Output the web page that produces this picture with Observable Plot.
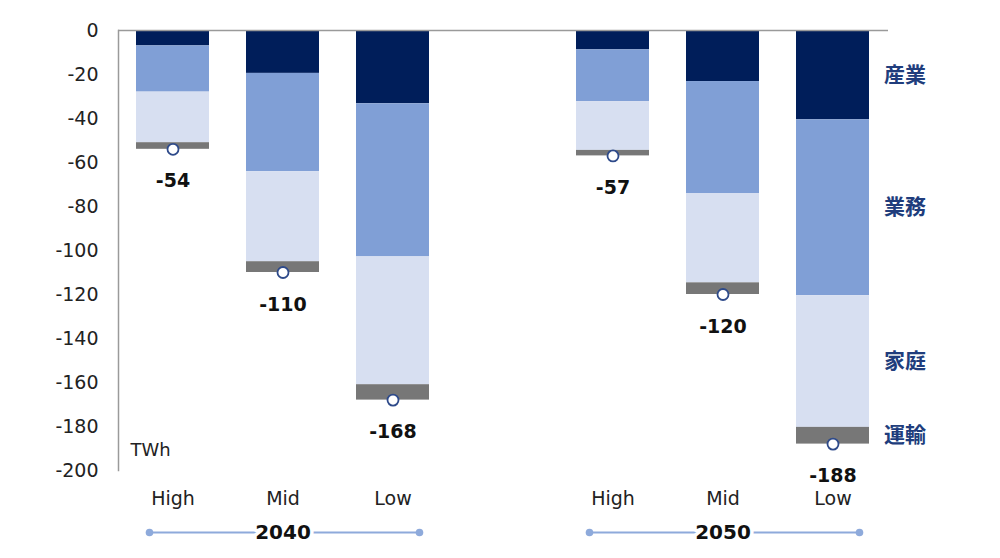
<!DOCTYPE html>
<html>
<head>
<meta charset="utf-8">
<script src="https://cdn.jsdelivr.net/npm/d3@7"></script>
<script src="https://cdn.jsdelivr.net/npm/@observablehq/plot@0.6"></script>
<style>
  html, body { margin: 0; padding: 0; background: #fff; }
  #chart { width: 1000px; height: 558px; }
</style>
</head>
<body>
<div id="chart"></div>
<script>
// ---- data ----
const years = ["2040", "2050"];
const scenarios = ["High", "Mid", "Low"];
const sectors = ["産業", "業務", "家庭", "運輸"];
const sectorColors = ["#001e5a", "#809fd6", "#d7dff1", "#777777"];
// TWh, order: 2040 High/Mid/Low, 2050 High/Mid/Low
const industry    = [-7.0, -19.5, -33.3, -8.8, -23.2, -40.6];
const commercial  = [-21.0, -44.7, -69.6, -23.5, -50.9, -79.9];
const residential = [-23.0, -40.9, -58.1, -22.2, -40.6, -59.9];
const transport   = [-3.0, -4.9, -7.0, -2.5, -5.3, -7.6];
const totals      = [-54, -110, -168, -57, -120, -188];
const yTicks = [0, -20, -40, -60, -80, -100, -120, -140, -160, -180, -200];
const unitLabel = "TWh";

// ---- derived tables ----
const keys = years.flatMap(y => scenarios.map(s => `${y}-${s}`));
const xDomain = [...keys.slice(0, 3), "gap", ...keys.slice(3)];
const series = [industry, commercial, residential, transport];
const segs = [];
keys.forEach((k, i) => {
  let base = 0;
  sectors.forEach((s, j) => {
    const v = series[j][i];
    segs.push({key: k, sector: s, y1: base, y2: base + v, mid: base + v / 2});
    base += v;
  });
});
const totalRows = keys.map((k, i) => ({key: k, total: totals[i]}));
const lastKey = keys[keys.length - 1];
const legendRows = segs.filter(d => d.key === lastKey);
const groups = years.map(y => ({year: y, first: `${y}-High`, mid: `${y}-Mid`, last: `${y}-Low`}));
const yMin = d3.min(yTicks);

const chart = Plot.plot({
  width: 1000,
  height: 558,
  marginLeft: 118,
  marginRight: 112,
  marginTop: 30,
  marginBottom: 88,
  style: {fontFamily: "'DejaVu Sans', Verdana, sans-serif", fontSize: "19px", color: "#222", background: "#fff"},
  x: {domain: xDomain, paddingInner: 0.336, paddingOuter: 0.168},
  y: {domain: [yMin, 0]},
  color: {domain: sectors, range: sectorColors},
  marks: [
    Plot.barY(segs, {x: "key", y1: "y1", y2: "y2", fill: "sector", inset: 0}),
    Plot.ruleY([0], {stroke: "#9a9a9a", strokeWidth: 1.5}),
    Plot.frame({anchor: "left", stroke: "#9a9a9a", strokeWidth: 1.5}),
    Plot.axisY({ticks: yTicks, tickSize: 0, tickPadding: 20, tickFormat: d => String(d), fontSize: 19, label: null}),
    Plot.axisX({tickSize: 0, tickPadding: 21, tickFormat: k => k === "gap" ? "" : k.split("-")[1], fontSize: 19, label: null}),
    Plot.dot(totalRows, {x: "key", y: "total", r: 5.5, fill: "white", stroke: "#2e4a8a", strokeWidth: 1.8}),
    Plot.text(totalRows, {x: "key", y: "total", text: d => String(d.total), dy: 32, fontWeight: "bold", fontSize: 19, fill: "#111"}),
    Plot.text(legendRows, {x: "key", y: "mid", text: "sector", dx: 51, textAnchor: "start", fontWeight: "bold", fontSize: 21, fill: "#203d7c", fontFamily: "'Noto Sans CJK JP', sans-serif"}),
    Plot.text([unitLabel], {frameAnchor: "bottom-left", text: d => d, dx: 12, dy: -15, textAnchor: "start", fontSize: 18, fill: "#222"}),
    Plot.ruleY(groups, {y: () => yMin, x1: "first", x2: "last", dy: 62, insetLeft: 13, insetRight: 10, stroke: "#8eaadb", strokeWidth: 2}),
    Plot.dot(groups, {x: "first", y: () => yMin, dx: -23.5, dy: 62, r: 3.8, fill: "#8eaadb"}),
    Plot.dot(groups, {x: "last", y: () => yMin, dx: 26.5, dy: 62, r: 3.8, fill: "#8eaadb"}),
    Plot.text(groups, {x: "mid", y: () => yMin, text: "year", dy: 62, fontWeight: "bold", fontSize: 20, fill: "#111", stroke: "white", strokeWidth: 7, paintOrder: "stroke"})
  ]
});
document.getElementById("chart").appendChild(chart);
</script>
</body>
</html>
